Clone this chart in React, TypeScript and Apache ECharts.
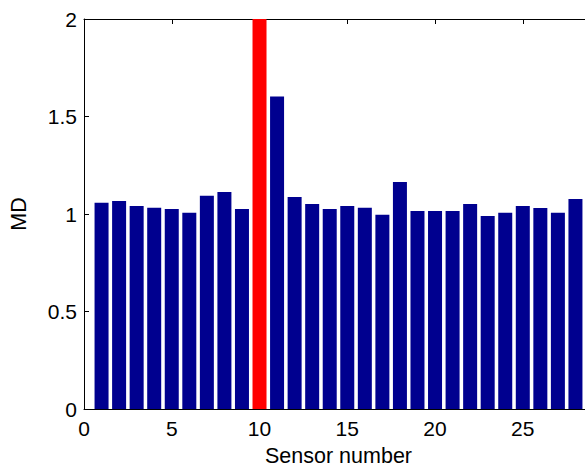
import React, { useEffect, useRef } from "react";
import * as echarts from "echarts";

const sensors = [1, 2, 3, 4, 5, 6, 7, 8, 9, 10, 11, 12, 13, 14, 15, 16, 17, 18, 19, 20, 21, 22, 23, 24, 25, 26, 27, 28];
const mdValues = [1.058, 1.067, 1.041, 1.032, 1.026, 1.007, 1.094, 1.113, 1.026, 2.4, 1.602, 1.087, 1.051, 1.026, 1.041, 1.032, 0.996, 1.164, 1.015, 1.015, 1.015, 1.051, 0.99, 1.007, 1.041, 1.031, 1.007, 1.077];
const faultySensor = 10;
const xTicks = [0, 5, 10, 15, 20, 25];
const yTicks = [0, 0.5, 1, 1.5, 2];

export default function App() {
  const ref = useRef<HTMLDivElement>(null);
  useEffect(() => {
    if (!ref.current) return;
    const chart = echarts.init(ref.current, null, { renderer: "svg" });
    const font = "Liberation Sans, Arial, Helvetica, sans-serif";
    const axisLine = { show: true, lineStyle: { color: "#000", width: 1 } };
    chart.setOption({
      animation: false,
      backgroundColor: "#fff",
      grid: { left: 84, right: -8, top: 19, bottom: 59, containLabel: false, outerBoundsMode: "none" },
      xAxis: [
        {
          type: "value",
          min: 0,
          max: 29,
          interval: 5,
          position: "bottom",
          name: "Sensor number",
          nameLocation: "middle",
          nameGap: 36,
          nameTextStyle: { fontFamily: font, fontSize: 21.5, color: "#000" },
          axisLine,
          axisTick: { show: true, inside: true, length: 5, lineStyle: { color: "#000" } },
          axisLabel: {
            fontFamily: font,
            fontSize: 21,
            color: "#000",
            margin: 9,
            showMaxLabel: false,
            formatter: (v: number) => (xTicks.includes(v) ? String(v) : ""),
          },
          splitLine: { show: false },
        },
        {
          type: "value",
          min: 0,
          max: 29,
          interval: 5,
          position: "top",
          axisLine,
          axisTick: { show: true, inside: true, length: 5, lineStyle: { color: "#000" } },
          axisLabel: { show: false },
          splitLine: { show: false },
        },
      ],
      yAxis: [
        {
          type: "value",
          min: 0,
          max: 2,
          interval: 0.5,
          name: "MD",
          nameLocation: "middle",
          nameGap: 54,
          nameTextStyle: { fontFamily: font, fontSize: 21.5, color: "#000" },
          axisLine,
          axisTick: { show: true, inside: true, length: 5, lineStyle: { color: "#000" } },
          axisLabel: {
            fontFamily: font,
            fontSize: 21,
            color: "#000",
            margin: 7,
            formatter: (v: number) => (yTicks.includes(v) ? String(v) : ""),
          },
          splitLine: { show: false },
        },
      ],
      series: [
        {
          type: "bar",
          xAxisIndex: 0,
          yAxisIndex: 0,
          barWidth: 14,
          clip: true,
          data: sensors.map((s, i) => ({
            value: [s, mdValues[i]],
            itemStyle: { color: s === faultySensor ? "#ff0000" : "#00008f" },
          })),
        },
      ],
    });
    return () => chart.dispose();
  }, []);
  return (
    <div
      ref={ref}
      style={{ position: "fixed", left: 0, top: 0, width: 585, height: 468, background: "#fff" }}
    />
  );
}
